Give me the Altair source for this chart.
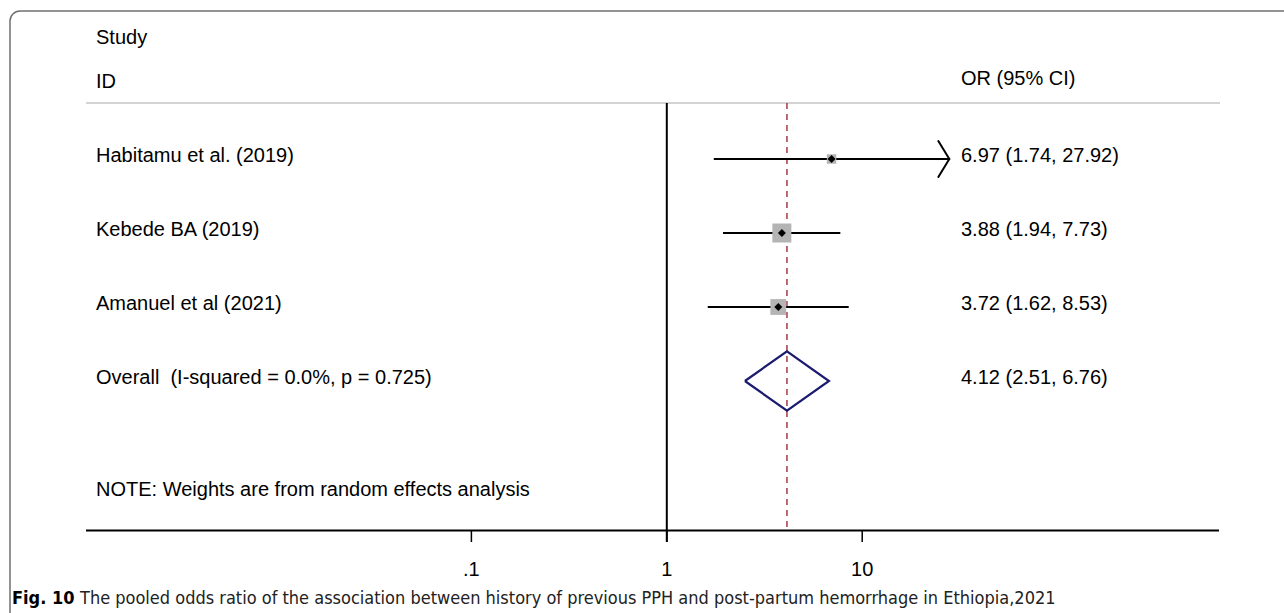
import altair as alt
import pandas as pd

# ---------------- data ----------------
studies = ["Habitamu et al. (2019)", "Kebede BA (2019)", "Amanuel et al (2021)"]
or_est = [6.97, 3.88, 3.72]
ci_low = [1.74, 1.94, 1.62]
ci_high = [27.92, 7.73, 8.53]
weights = [12.8, 51.5, 35.7]  # % weight (random effects)

overall_label = "Overall\u00a0 (I-squared = 0.0%, p = 0.725)"
overall_est, overall_low, overall_high = 4.12, 2.51, 6.76

note_text = "NOTE: Weights are from random effects analysis"
header_left = ["Study", "ID"]
header_right = "OR (95% CI)"
tick_values = [0.1, 1, 10]
tick_labels = [".1", "1", "10"]
caption_bold = "Fig. 10"
caption_text = ("The pooled odds ratio of the association between history of previous PPH "
                "and post-partum hemorrhage in Ethiopia,2021")

# ---------------- layout ----------------
W, H = 1284, 613
PX_DEC = 195.4       # pixels per decade
NULL_PX = 666.8      # pixel of OR = 1
ROW0 = 159.0         # pixel of first study row
ROWH = 74.0          # row spacing


def row_of(px):
    return (px - ROW0) / ROWH


x_dom = [10 ** (-NULL_PX / PX_DEC), 10 ** ((W - NULL_PX) / PX_DEC)]
y_dom = [row_of(0), row_of(H)]
xs = alt.Scale(type="log", domain=x_dom, nice=False)
ys = alt.Scale(domain=y_dom, reverse=True, nice=False, zero=False)

FONT = "Liberation Sans"
CAP_FONT = "'DejaVu Sans Condensed', 'Liberation Sans Narrow', 'Liberation Sans', sans-serif"
FS = 20

nrows = len(studies)
studies_df = pd.DataFrame({
    "study": studies, "est": or_est, "lo": ci_low, "hi": ci_high,
    "w": weights, "row": list(range(nrows)),
    "label": [f"{e:.2f} ({l:.2f}, {h:.2f})" for e, l, h in zip(or_est, ci_low, ci_high)],
})

# arrows for CIs that run past the last labelled tick
arrow_back = 10 ** (-11 / PX_DEC)
arrow_half = 18 / ROWH
arr_rows = []
for _, r in studies_df.iterrows():
    if r["hi"] > max(tick_values):
        for s in (-1, 1):
            arr_rows.append({"x": r["hi"], "x2": r["hi"] * arrow_back,
                             "y": r["row"], "y2": r["row"] + s * arrow_half})
arrow_df = pd.DataFrame(arr_rows)

orow = nrows
dh = 0.4
diamond_df = pd.DataFrame({
    "x": [overall_low, overall_est, overall_high, overall_est, overall_low],
    "y": [orow, orow - dh, orow, orow + dh, orow],
    "o": [0, 1, 2, 3, 4],
})

left_df = pd.DataFrame({
    "t": header_left + studies + [overall_label, note_text],
    "row": [row_of(41), row_of(85)] + list(range(nrows)) + [orow, row_of(493)],
})
right_df = pd.DataFrame({
    "t": [header_right] + list(studies_df["label"]) +
         [f"{overall_est:.2f} ({overall_low:.2f}, {overall_high:.2f})"],
    "row": [row_of(82)] + list(range(nrows)) + [orow],
})

TOP = row_of(103)
AXIS = row_of(530.5)
TICK_END = row_of(542)
ticks_df = pd.DataFrame({"v": tick_values, "lab": tick_labels})
one = pd.DataFrame({"k": [0]})

# ---------------- layers ----------------
frame = alt.Chart(one).mark_rect(
    cornerRadius=10, fill="white", fillOpacity=0, stroke="#707070", strokeWidth=1.5
).encode(x=alt.value(10), x2=alt.value(1400), y=alt.value(11), y2=alt.value(900))

sep = alt.Chart(pd.DataFrame({"r": [TOP]})).mark_rule(color="#c4c4c4", strokeWidth=1.5).encode(
    x=alt.value(86), x2=alt.value(1220), y=alt.Y("r:Q", scale=ys, axis=None))

null_line = alt.Chart(pd.DataFrame({"v": [1], "a": [TOP], "b": [TICK_END]})).mark_rule(
    color="black", strokeWidth=2).encode(
    x=alt.X("v:Q", scale=xs, axis=None), y=alt.Y("a:Q", scale=ys, axis=None), y2="b:Q")

ref_line = alt.Chart(pd.DataFrame({"v": [overall_est], "a": [TOP], "b": [AXIS]})).mark_rule(
    color="#a33a48", strokeWidth=1.5, strokeDash=[6, 5]).encode(
    x=alt.X("v:Q", scale=xs, axis=None), y=alt.Y("a:Q", scale=ys, axis=None), y2="b:Q")

axis_line = alt.Chart(pd.DataFrame({"r": [AXIS]})).mark_rule(color="black", strokeWidth=2).encode(
    x=alt.value(86), x2=alt.value(1219), y=alt.Y("r:Q", scale=ys, axis=None))

tick_marks = alt.Chart(ticks_df).transform_calculate(a=str(AXIS), b=str(TICK_END)).mark_rule(
    color="black", strokeWidth=1.5).encode(
    x=alt.X("v:Q", scale=xs, axis=None), y=alt.Y("a:Q", scale=ys, axis=None), y2="b:Q")

tick_text = alt.Chart(ticks_df).transform_calculate(r=str(row_of(573))).mark_text(
    font=FONT, fontSize=FS, color="black", align="center", baseline="alphabetic", dy=3).encode(
    x=alt.X("v:Q", scale=xs, axis=None), y=alt.Y("r:Q", scale=ys, axis=None), text="lab:N")

ci = alt.Chart(studies_df).mark_rule(color="black", strokeWidth=2).encode(
    x=alt.X("lo:Q", scale=xs, axis=None), x2="hi:Q", y=alt.Y("row:Q", scale=ys, axis=None))

layers = [frame, sep, null_line, ref_line, axis_line, tick_marks, tick_text, ci]

if len(arrow_df):
    arrows = alt.Chart(arrow_df).mark_rule(color="black", strokeWidth=2, strokeCap="round").encode(
        x=alt.X("x:Q", scale=xs, axis=None), x2="x2:Q",
        y=alt.Y("y:Q", scale=ys, axis=None), y2="y2:Q")
    layers.append(arrows)

boxes = alt.Chart(studies_df).mark_square(color="#b4b4b4", opacity=1).encode(
    x=alt.X("est:Q", scale=xs, axis=None), y=alt.Y("row:Q", scale=ys, axis=None),
    size=alt.Size("w:Q", scale=alt.Scale(domain=[0, 100], range=[0, 700]), legend=None))

dots = alt.Chart(studies_df).mark_point(shape="diamond", filled=True, color="black",
                                        size=64, opacity=1).encode(
    x=alt.X("est:Q", scale=xs, axis=None), y=alt.Y("row:Q", scale=ys, axis=None))

diamond = alt.Chart(diamond_df).mark_line(color="#1b1b70", strokeWidth=2.2,
                                          strokeJoin="miter").encode(
    x=alt.X("x:Q", scale=xs, axis=None), y=alt.Y("y:Q", scale=ys, axis=None), order="o:Q")

left_text = alt.Chart(left_df).mark_text(
    font=FONT, fontSize=FS, color="black", align="left", baseline="alphabetic", dy=3).encode(
    x=alt.value(96), y=alt.Y("row:Q", scale=ys, axis=None), text="t:N")

right_text = alt.Chart(right_df).mark_text(
    font=FONT, fontSize=FS, color="black", align="left", baseline="alphabetic", dy=3).encode(
    x=alt.value(961), y=alt.Y("row:Q", scale=ys, axis=None), text="t:N")

cap1 = alt.Chart(one).transform_calculate(t=f"'{caption_bold}'").mark_text(
    font=CAP_FONT, fontSize=18, fontWeight="bold", color="black", align="left",
    baseline="alphabetic").encode(x=alt.value(12), y=alt.value(604), text="t:N")
cap2 = alt.Chart(pd.DataFrame({"t": [caption_text]})).mark_text(
    font=CAP_FONT, fontSize=18, color="#222222", align="left",
    baseline="alphabetic").encode(x=alt.value(80), y=alt.value(604), text="t:N")

layers += [boxes, dots, diamond, left_text, right_text, cap1, cap2]

chart = alt.layer(*layers).properties(
    width=W, height=H, padding=0, autosize=alt.AutoSizeParams(type="none"),
    background="white"
).configure_view(strokeWidth=0)

chart.save("out.html", embed_options={"renderer": "svg", "actions": False})
